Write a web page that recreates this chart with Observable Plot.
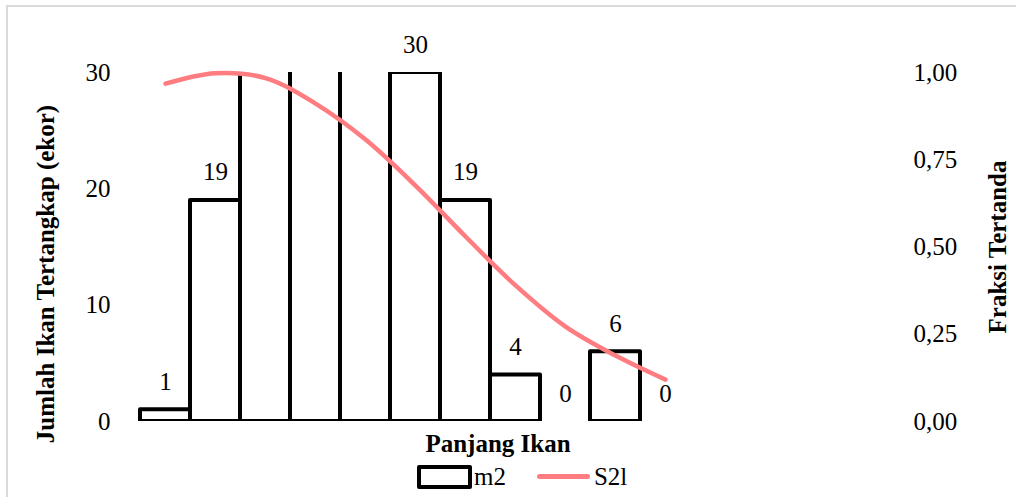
<!DOCTYPE html>
<html><head><meta charset="utf-8">
<script src="https://cdn.jsdelivr.net/npm/d3@7"></script>
<script src="https://cdn.jsdelivr.net/npm/@observablehq/plot@0.6"></script>
<style>
body{margin:0;background:#fff;font-family:"Liberation Serif",serif;color:#000;overflow:hidden;}
#frame{position:absolute;left:6px;top:5px;width:1030px;height:510px;border:2px solid #d9d9d9;box-sizing:border-box;}
#chart{position:absolute;left:0;top:0;}
#legend{position:absolute;top:464px;left:417px;font-size:25px;display:flex;align-items:center;line-height:1;}
.box{display:inline-block;width:47px;height:16px;border:4px solid #000;border-radius:2px;background:#fff;}
.ln{display:inline-block;width:53px;height:4.5px;border-radius:3px;background:#FF7C80;margin-left:31px;margin-right:4px;}
</style></head><body>
<div id="frame"></div>
<div id="chart"></div>
<div id="legend"><span class="box"></span><span style="margin-left:2px">m2</span><span class="ln"></span><span>S2l</span></div>
<script>
const classes = ["1","2","3","4","5","6","7","8","9","10","11"];
const counts = [1, 19, 38, 46, 35, 30, 19, 4, 0, 6, 0];
const fraction = [0.968, 0.998, 0.984, 0.911, 0.808, 0.676, 0.530, 0.390, 0.272, 0.189, 0.120];
const leftTicks = [0, 10, 20, 30];
const rightTicks = [0, 0.25, 0.5, 0.75, 1];
const countMax = 30;

const rows = classes.map((c, i) => ({cls: c, count: counts[i], frac: fraction[i]}));

const chart = Plot.plot({
  width: 1016,
  height: 460,
  marginLeft: 137,
  marginRight: 324,
  marginTop: 72,
  marginBottom: 39,
  style: {fontFamily: "Liberation Serif, serif", fontSize: "25px", color: "#000", background: "transparent", overflow: "visible"},
  x: {domain: classes, padding: 0, axis: null},
  y: {domain: [0, countMax], axis: null},
  marks: [
    Plot.barY(rows, {x: "cls", y: "count", fill: "white", stroke: "black", strokeWidth: 4, strokeLinejoin: "round", inset: 0, clip: true}),
    Plot.line(rows, {x: "cls", y: d => d.frac * countMax, stroke: "#FF7C80", strokeWidth: 4.5, curve: "catmull-rom", strokeLinecap: "round"}),
    Plot.text(rows.filter(d => d.count <= countMax), {x: "cls", y: "count", text: d => String(d.count), dy: -28, fill: "black"}),
    Plot.axisY({anchor: "left", ticks: leftTicks, tickSize: 0, tickPadding: 27, label: null}),
    Plot.axisY({anchor: "right", ticks: rightTicks.map(f => f * countMax), tickFormat: v => (v / countMax).toFixed(2).replace(".", ","), tickSize: 0, tickPadding: 221, label: null}),
    Plot.text(["Jumlah Ikan Tertangkap (ekor)"], {frameAnchor: "left", rotate: -90, dx: -92, dy: 27, fontWeight: "bold", textAnchor: "middle", lineAnchor: "middle"}),
    Plot.text(["Fraksi Tertanda"], {frameAnchor: "right", rotate: -90, dx: 305, fontWeight: "bold", textAnchor: "middle", lineAnchor: "middle"}),
    Plot.text(["Panjang Ikan"], {frameAnchor: "bottom", dx: 83, dy: 22, fontWeight: "bold", textAnchor: "middle", lineAnchor: "middle"})
  ]
});
document.getElementById("chart").appendChild(chart);
</script>
</body></html>
